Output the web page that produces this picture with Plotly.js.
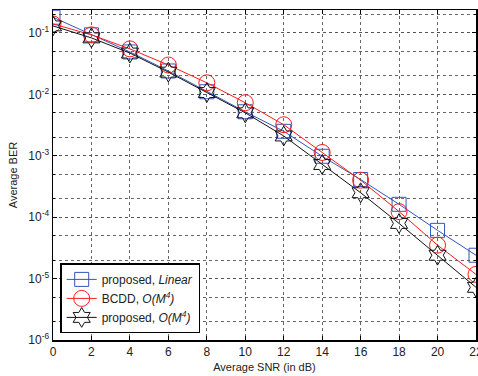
<!DOCTYPE html>
<html>
<head>
<meta charset="utf-8">
<script src="https://cdn.plot.ly/plotly-3.0.1.min.js"></script>
<style>html,body{margin:0;padding:0;background:#fff;overflow:hidden;}#chart{width:478px;height:376px;}</style>
</head>
<body>
<div id="chart"></div>
<script>
const snr = [0, 2, 4, 6, 8, 10, 12, 14, 16, 18, 20, 22];
const berProposedLinear = [0.18, 0.093, 0.049, 0.024, 0.011, 0.0052, 0.0025, 0.00098, 0.00041, 0.000162, 6.1e-5, 2.4e-5];
const berBCDD = [0.14, 0.093, 0.055, 0.030, 0.0154, 0.0073, 0.0032, 0.00113, 0.0004, 0.000123, 3.5e-5, 1.17e-5];
const berProposedM4 = [0.13, 0.083, 0.047, 0.023, 0.0107, 0.0050, 0.0021, 0.00072, 0.00025, 7.9e-5, 2.4e-5, 7.2e-6];
const seriesNames = ['proposed, <i>Linear</i>', 'BCDD, <i>O(M<sup>4</sup>)</i>', 'proposed, <i>O(M<sup>4</sup>)</i>'];
const xTicks = [0, 2, 4, 6, 8, 10, 12, 14, 16, 18, 20, 22];
const yTickVals = [1e-6, 1e-5, 1e-4, 1e-3, 1e-2, 1e-1];
const yTickText = ['10<sup>-6</sup>', '10<sup>-5</sup>', '10<sup>-4</sup>', '10<sup>-3</sup>', '10<sup>-2</sup>', '10<sup>-1</sup>'];

const traces = [
  {x: snr, y: berProposedLinear, name: seriesNames[0], mode: 'lines+markers', type: 'scatter',
   line: {color: '#3355bb', width: 1}, marker: {symbol: 'square-open', size: 14, color: '#3355bb', line: {width: 1}}},
  {x: snr, y: berBCDD, name: seriesNames[1], mode: 'lines+markers', type: 'scatter',
   line: {color: '#ff1a1a', width: 1}, marker: {symbol: 'circle-open', size: 16, color: '#ff1a1a', line: {width: 1}}},
  {x: snr, y: berProposedM4, name: seriesNames[2], mode: 'lines+markers', type: 'scatter',
   line: {color: '#111111', width: 1}, marker: {symbol: 'hexagram-open', size: 15, color: '#111111', line: {width: 1}}}
];

const fontFam = 'Liberation Sans, Arial, sans-serif';
const layout = {
  width: 478, height: 376,
  margin: {l: 53, r: 2, t: 10, b: 36},
  paper_bgcolor: '#fff', plot_bgcolor: '#fff',
  font: {family: fontFam, size: 12, color: '#222'},
  showlegend: true,
  legend: {x: 0.017, y: 0.02, xanchor: 'left', yanchor: 'bottom', bgcolor: '#fff',
           bordercolor: '#000', borderwidth: 1.5, font: {size: 12, family: fontFam}, tracegroupgap: 0},
  xaxis: {
    range: [0, 22], tickvals: xTicks, ticktext: xTicks.map(String), ticklabeloverflow: 'allow',
    ticks: 'inside', ticklen: 4, tickcolor: '#000', mirror: 'ticks',
    showline: true, linecolor: '#000', linewidth: 1.5,
    showgrid: true, gridcolor: '#666', griddash: 'dot', gridwidth: 1,
    zeroline: false, tickfont: {size: 12},
    title: {text: 'Average SNR (in dB)', font: {size: 11}, standoff: 5}
  },
  yaxis: {
    type: 'log', range: [-6, -0.627],
    tickvals: yTickVals, ticktext: yTickText,
    ticks: 'inside', ticklen: 4, tickcolor: '#000', mirror: 'ticks',
    showline: true, linecolor: '#000', linewidth: 1.5,
    showgrid: true, gridcolor: '#555', griddash: 'dot', gridwidth: 1,
    minor: {showgrid: true, gridcolor: '#666', griddash: 'dot', gridwidth: 1, ticks: 'inside', ticklen: 2, tickcolor: '#000'},
    zeroline: false, tickfont: {size: 12},
    title: {text: 'Average BER', font: {size: 11}, standoff: 8}
  }
};
Plotly.newPlot('chart', traces, layout, {displayModeBar: false, staticPlot: true});
</script>
</body>
</html>
